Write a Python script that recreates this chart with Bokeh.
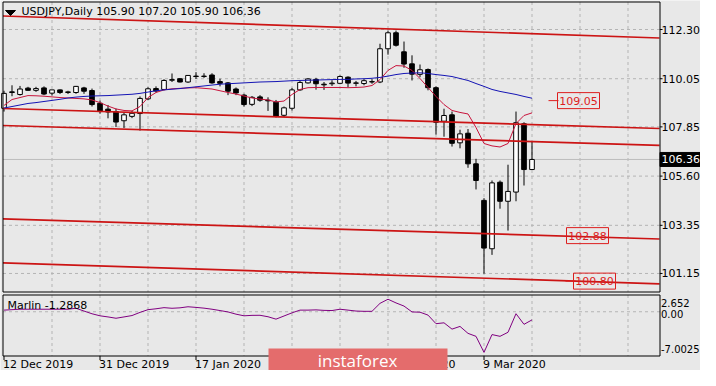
from bokeh.plotting import figure
from bokeh.models import Range1d
from bokeh.core.properties import value
from bokeh.embed import file_html
from bokeh.resources import INLINE

# ---------------- data ----------------
symbol = "USDJPY,Daily"
date_labels = ["12 Dec 2019", "31 Dec 2019", "17 Jan 2020", "4 Feb 2020", "20 Feb 2020", "9 Mar 2020"]
date_label_bars = [0, 12, 24, 36, 48, 60]

opens = [108.70, 109.45, 109.33, 109.62, 109.52, 109.63, 109.39, 109.54, 109.42, 109.42,
         109.63, 109.51, 108.93, 108.66, 108.55, 108.13, 108.33, 108.46, 109.13, 109.60,
         109.56, 109.98, 110.05, 109.90, 110.17, 110.15, 110.22, 109.92, 109.86, 109.58,
         109.30, 108.88, 109.22, 109.07, 108.98, 108.38, 108.70, 109.54, 109.86, 110.02,
         109.80, 109.82, 109.84, 110.12, 109.84, 109.83, 109.90, 109.90, 111.42, 112.15,
         111.28, 110.73, 110.25, 110.47, 109.64, 108.11, 108.40, 107.12, 107.56, 106.16,
         104.49, 102.28, 105.32, 104.45, 104.87, 107.99, 105.90]
highs = [109.50, 109.75, 109.72, 109.68, 109.68, 109.70, 109.52, 109.56, 109.50, 109.72,
         109.68, 109.60, 109.05, 108.85, 108.68, 108.52, 108.58, 109.24, 109.66, 109.70,
         110.03, 110.29, 110.08, 110.22, 110.35, 110.30, 110.30, 110.05, 109.90, 109.65,
         109.36, 109.26, 109.30, 109.20, 109.08, 108.78, 109.63, 109.96, 110.08, 110.09,
         109.90, 109.98, 110.20, 110.16, 109.95, 110.03, 110.03, 111.65, 112.25, 112.25,
         111.75, 111.12, 110.70, 110.52, 109.70, 108.68, 108.55, 107.72, 107.75, 106.39,
         104.59, 105.40, 105.40, 106.12, 108.55, 108.06, 107.20]
lows = [108.55, 109.25, 109.28, 109.50, 109.45, 109.30, 109.28, 109.35, 109.35, 109.36,
        109.36, 108.78, 108.45, 108.24, 107.84, 107.80, 108.25, 107.68, 109.08, 109.42,
        109.52, 109.90, 109.88, 109.86, 110.04, 110.09, 109.82, 109.70, 109.30, 109.30,
        108.78, 108.80, 109.00, 108.58, 108.28, 108.30, 108.60, 109.50, 109.83, 109.55,
        109.54, 109.72, 109.80, 109.66, 109.70, 109.75, 109.82, 109.85, 111.15, 111.52,
        110.55, 109.97, 110.12, 109.52, 107.50, 107.40, 106.95, 106.87, 105.98, 104.99,
        101.14, 102.00, 104.11, 103.11, 104.45, 105.17, 105.90]
closes = [109.38, 109.42, 109.58, 109.52, 109.60, 109.35, 109.54, 109.42, 109.45, 109.70,
          109.48, 108.87, 108.55, 108.53, 108.07, 108.40, 108.47, 109.15, 109.59, 109.49,
          109.97, 110.01, 109.90, 110.20, 110.15, 110.17, 109.86, 109.84, 109.48, 109.40,
          108.87, 109.20, 109.07, 109.04, 108.34, 108.72, 109.54, 109.88, 110.04, 109.82,
          109.77, 109.85, 110.15, 109.85, 109.86, 109.96, 109.92, 111.42, 112.15, 111.58,
          110.72, 110.26, 110.46, 109.64, 108.06, 108.37, 107.10, 107.53, 106.16, 105.40,
          102.31, 105.29, 104.45, 104.90, 108.04, 105.90, 106.36]

red_ma = [108.83, 109.10, 109.19, 109.28, 109.27, 109.25, 109.22, 109.19, 109.17, 109.15,
          109.13, 109.08, 108.96, 108.80, 108.67, 108.60, 108.58, 108.78, 109.19, 109.42,
          109.54, 109.59, 109.61, 109.63, 109.64, 109.61, 109.58, 109.50, 109.42, 109.35,
          109.26, 109.17, 109.12, 109.08, 108.99, 109.03, 109.33, 109.56, 109.64, 109.65,
          109.65, 109.65, 109.65, 109.64, 109.65, 109.67, 109.74, 110.01, 110.43, 110.65,
          110.63, 110.43, 110.06, 109.65, 109.24, 108.87, 108.60, 108.51, 108.44, 107.82,
          107.09, 106.98, 106.93, 107.09, 108.00, 108.37, 108.49]
blue_ma = [108.71, 108.78, 108.85, 108.92, 108.96, 109.01, 109.06, 109.11, 109.17, 109.21,
           109.24, 109.26, 109.27, 109.28, 109.30, 109.32, 109.34, 109.38, 109.44, 109.50,
           109.54, 109.57, 109.60, 109.64, 109.68, 109.72, 109.76, 109.80, 109.82, 109.84,
           109.86, 109.88, 109.90, 109.91, 109.92, 109.94, 109.96, 109.97, 109.98, 109.99,
           110.00, 110.01, 110.02, 110.02, 110.04, 110.05, 110.07, 110.11, 110.17, 110.24,
           110.29, 110.31, 110.32, 110.29, 110.24, 110.20, 110.15, 110.06, 109.97, 109.83,
           109.70, 109.56, 109.47, 109.40, 109.33, 109.24, 109.16]
marlin = [0.26, 0.33, 0.40, 0.40, 0.40, 0.40, 0.40, 0.40, 0.40, 0.55,
          0.11, -0.32, -0.64, -0.82, -1.03, -0.82, -0.60, -0.10, 0.33, 0.47,
          0.65, 0.55, 0.62, 0.79, 0.69, 0.57, 0.40, 0.19, -0.03, -0.38,
          -0.64, -0.57, -0.56, -0.79, -1.17, -0.67, -0.17, 0.26, 0.26, 0.30,
          0.22, 0.19, 0.40, 0.26, 0.11, 0.07, 0.07, 1.33, 1.98, 1.40,
          0.90, -0.03, -0.07, -0.53, -1.89, -1.75, -2.75, -2.32, -3.42, -3.89,
          -6.43, -3.61, -3.89, -3.25, -0.31, -1.99, -1.2868]
marlin_max = 2.652
marlin_min = -7.0025
marlin_tick_labels = ["2.652", "0.00", "-7.0025"]

price_ticks = [101.15, 103.35, 105.60, 107.85, 110.05, 112.30]
trend_start = [112.917, 108.689, 107.912, 103.648, 101.637]
trend_end = [111.912, 107.775, 107.000, 102.725, 100.678]
level_labels = [109.05, 102.88, 100.80]

# ---------------- layout helpers (reference pixel -> data) ----------------
W, H = 700, 370
BG = "#E8E8E8"
FONT = "DejaVu Sans"
RED = "#CC1414"
LBL_RED = "#DD1E1E"
GRID = "#B4B4B4"


def bx(rx):          # pixel column -> bar coordinate
    return (rx - 3.5) / 8.0


def py(ry):          # pixel row -> price (main panel)
    return 112.30 - (ry - 29.0) / 21.88


SUB_TOP, SUB_BOT = 294.5, 355.5


def sub_y(fy):       # pixel row -> Marlin value (sub panel)
    return marlin_max - (fy - SUB_TOP) * (marlin_max - marlin_min) / (SUB_BOT - SUB_TOP)


def sub_ref(ry):     # reference-picture row inside sub panel -> our row
    return SUB_TOP + (ry - 294.3) * (SUB_BOT - SUB_TOP) / 67.4


bars = list(range(len(closes)))
L, R = bx(2.5), bx(659.5)

p = figure(width=W, height=H, x_range=Range1d(bx(0), bx(W)), y_range=Range1d(py(H), py(0)),
           x_axis_location=None, y_axis_location=None, toolbar_location=None,
           output_backend="svg", min_border=0, min_border_left=0, min_border_right=0,
           min_border_top=0, min_border_bottom=0,
           background_fill_color=BG, border_fill_color=BG, outline_line_color=None)
p.grid.visible = False
p.extra_y_ranges = {"sub": Range1d(sub_y(H), sub_y(0))}

# ---------------- main panel ----------------
gx = list(range(6, 84, 6))
p.segment(x0=gx, x1=gx, y0=[py(1.5)] * len(gx), y1=[py(291.5)] * len(gx),
          line_color=GRID, line_dash="3 3")
p.segment(x0=[L] * len(price_ticks), x1=[R] * len(price_ticks), y0=price_ticks, y1=price_ticks,
          line_color=GRID, line_dash="3 3")
# bid line
p.segment(x0=[L], x1=[R], y0=[closes[-1]], y1=[closes[-1]], line_color="#BDBDBD", line_width=1)

# candles
p.segment(x0=bars, x1=bars, y0=lows, y1=highs, line_color="black", line_width=1)
tops = [max(o, c) for o, c in zip(opens, closes)]
bots = [min(o, c) for o, c in zip(opens, closes)]
fills = ["white" if c >= o else "black" for o, c in zip(opens, closes)]
p.vbar(x=bars, top=tops, bottom=bots, width=0.58, fill_color=fills,
       line_color="black", line_width=1)

# trend lines
p.multi_line(xs=[[L, bx(659)] for _ in trend_start],
             ys=[[s, e] for s, e in zip(trend_start, trend_end)],
             line_color=RED, line_width=1.7)

# moving averages
p.line(bars, red_ma, line_color="#C8143C", line_width=1)
p.line(bars, blue_ma, line_color="#1414B4", line_width=1)

# level labels
lx = [bx(578), bx(587), bx(594)]
p.rect(x=lx, y=level_labels, width=42, height=16, width_units="screen",
       height_units="screen", fill_color=None, line_color=LBL_RED, line_width=1)
p.text(x=lx, y=level_labels, text=[f"{v:.2f}" for v in level_labels],
       text_color=LBL_RED, text_font=value(FONT), text_font_size="11px",
       text_align="center", text_baseline="middle")
p.segment(x0=[bx(548), bx(565)], x1=[bx(558), bx(575)],
          y0=[level_labels[0], level_labels[2]], y1=[level_labels[0], level_labels[2]],
          line_color=LBL_RED, line_width=1)

# main panel border
p.quad(left=[L], right=[R], top=[py(1.5)], bottom=[py(291.5)], fill_color=None,
       line_color="black", line_width=1)

# title
p.patch(x=[bx(5), bx(15), bx(10)], y=[py(10), py(10), py(15)], color="black")
title = f"{symbol}  {opens[-1]:.2f} {highs[-1]:.2f} {lows[-1]:.2f} {closes[-1]:.2f}"
p.text(x=[bx(21)], y=[py(10.5)], text=[title], text_color="black",
       text_font=value(FONT), text_font_size="11px", text_align="left",
       text_baseline="middle")

# price scale
p.segment(x0=[R] * len(price_ticks), x1=[bx(662)] * len(price_ticks),
          y0=price_ticks, y1=price_ticks, line_color="black", line_width=1)
p.text(x=[bx(699.6)] * len(price_ticks), y=price_ticks, text=[f"{v:.2f}" for v in price_ticks],
       text_color="black", text_font=value(FONT), text_font_size="11px",
       text_align="right", text_baseline="middle")
# current price box
p.rect(x=[bx(680)], y=[closes[-1]], width=41, height=14, width_units="screen",
       height_units="screen", fill_color="black", line_color="black")
p.text(x=[bx(699.6)], y=[closes[-1]], text=[f"{closes[-1]:.2f}"], text_color="white",
       text_font=value(FONT), text_font_size="11px", text_align="right",
       text_baseline="middle")

# ---------------- Marlin sub panel ----------------
p.segment(x0=gx, x1=gx, y0=[marlin_max] * len(gx), y1=[marlin_min] * len(gx),
          line_color=GRID, line_dash="3 3", y_range_name="sub")
p.segment(x0=[L], x1=[R], y0=[0], y1=[0], line_color=GRID, line_dash="3 3", y_range_name="sub")
p.line(bars, marlin, line_color="#800080", line_width=1, y_range_name="sub")
p.quad(left=[L], right=[R], top=[marlin_max], bottom=[marlin_min], fill_color=None,
       line_color="black", line_width=1, y_range_name="sub")
p.text(x=[bx(7)], y=[sub_y(sub_ref(305.5))], text=[f"Marlin {marlin[-1]:.4f}"],
       text_color="black", text_font=value(FONT), text_font_size="11px",
       text_align="left", text_baseline="middle", y_range_name="sub")
sub_label_rows = [sub_ref(303.5), sub_ref(314.8), sub_ref(354.5)]
p.text(x=[bx(660.5)] * 3, y=[sub_y(r) for r in sub_label_rows], text=marlin_tick_labels,
       text_color="black", text_font=value(FONT), text_font_size="10px",
       text_align="left", text_baseline="middle", y_range_name="sub")

# date ticks + labels
nd = len(date_label_bars)
p.segment(x0=date_label_bars, x1=date_label_bars, y0=[marlin_min] * nd,
          y1=[sub_y(SUB_BOT + 4)] * nd, line_color="black", line_width=1, y_range_name="sub")
p.text(x=date_label_bars, y=[sub_y(363.5)] * nd, text=date_labels,
       text_color="black", text_font=value(FONT), text_font_size="11px",
       text_align="left", text_baseline="middle", x_offset=-1, y_range_name="sub")

# watermark
p.quad(left=[bx(268)], right=[bx(447)], top=[sub_y(348)], bottom=[sub_y(380)],
       fill_color="#E46C6C", line_color=None, y_range_name="sub")
p.text(x=[bx(357)], y=[sub_y(359.5)], text=["instaforex"], text_color="white",
       text_font=value("Open Sans"), text_font_size="17px", text_align="center",
       text_baseline="middle", y_range_name="sub")

open("out.html", "w").write(file_html(p, INLINE))
